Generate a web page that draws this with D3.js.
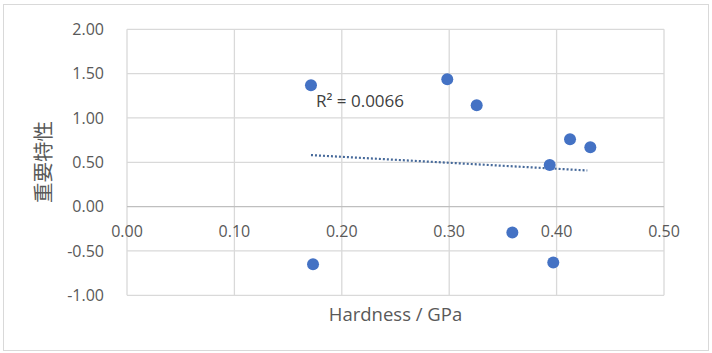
<!DOCTYPE html>
<html><head><meta charset="utf-8">
<script src="https://cdn.jsdelivr.net/npm/d3@7"></script>
<style>body{margin:0;background:#fff}svg{display:block}</style>
</head><body>
<script>
const hardness = [0.1713, 0.2982, 0.3256, 0.4125, 0.4314, 0.3936, 0.3588, 0.3969, 0.1732];
const importance = [1.369, 1.436, 1.143, 0.760, 0.670, 0.470, -0.293, -0.631, -0.650];
const xTicks = [0, 0.1, 0.2, 0.3, 0.4, 0.5];
const yTicks = [-1, -0.5, 0, 0.5, 1, 1.5, 2];
const xTitle = "Hardness / GPa";
const yTitle = "重要特性";
const r2Label = "R² = 0.0066";

const W = 712, H = 353;
const svg = d3.select("body").append("svg").attr("width", W).attr("height", H);
svg.append("rect").attr("x", 3.5).attr("y", 4.5).attr("width", 705).attr("height", 346)
  .attr("fill", "#fff").attr("stroke", "#d9d9d9").attr("stroke-width", 1);

const x = d3.scaleLinear().domain([0, 0.5]).range([127, 664]);
const y = d3.scaleLinear().domain([-1, 2]).range([295.3, 29.3]);
const font = "'Open Sans', 'Liberation Sans', sans-serif";
const fmt = d => d3.format(".2f")(d).replace("\u2212", "-");

// gridlines
const g = svg.append("g");
g.selectAll(".gx").data(xTicks).join("line")
  .attr("x1", d => x(d)).attr("x2", d => x(d)).attr("y1", y(2)).attr("y2", y(-1))
  .attr("stroke", "#d9d9d9").attr("stroke-width", 1.3);
g.selectAll(".gy").data(yTicks).join("line")
  .attr("x1", x(0)).attr("x2", x(0.5)).attr("y1", d => y(d)).attr("y2", d => y(d))
  .attr("stroke", d => d === 0 ? "#bfbfbf" : "#d9d9d9").attr("stroke-width", 1.3);

// y tick labels
svg.selectAll(".yl").data(yTicks).join("text")
  .attr("x", 104).attr("y", d => y(d)).attr("dy", "0.36em")
  .attr("text-anchor", "end").attr("font-family", font).attr("font-size", 16)
  .attr("fill", "#595959").text(fmt);

// x tick labels (axis crosses at y=0)
svg.selectAll(".xl").data(xTicks).join("text")
  .attr("x", d => x(d)).attr("y", y(0) + 25).attr("dy", "0.36em")
  .attr("text-anchor", "middle").attr("font-family", font).attr("font-size", 16)
  .attr("fill", "#595959").text(fmt);

// trendline via least squares
const mx = d3.mean(hardness), my = d3.mean(importance);
let sxy = 0, sxx = 0;
hardness.forEach((v, i) => { sxy += (v - mx) * (importance[i] - my); sxx += (v - mx) ** 2; });
const slope = sxy / sxx, icpt = my - slope * mx;
const [x0, x1] = d3.extent(hardness);
const xe = x.invert(x(x1) - 3);
svg.append("line")
  .attr("x1", x(x0)).attr("y1", y(icpt + slope * x0))
  .attr("x2", x(xe)).attr("y2", y(icpt + slope * xe))
  .attr("stroke", "#46699a").attr("stroke-width", 2.2).attr("stroke-dasharray", "2,2");

// points
svg.selectAll(".pt").data(hardness).join("circle")
  .attr("cx", d => x(d)).attr("cy", (d, i) => y(importance[i])).attr("r", 6)
  .attr("fill", "#4472c4");

// R² label
svg.append("text").attr("x", 316).attr("y", 107)
  .attr("font-family", font).attr("font-size", 17).attr("fill", "#404040").text(r2Label);

// axis titles
svg.append("text").attr("x", (x(0) + x(0.5)) / 2).attr("y", 321)
  .attr("text-anchor", "middle").attr("font-family", font).attr("font-size", 18.5)
  .attr("fill", "#595959").text(xTitle);
svg.append("text").attr("transform", "translate(51,162) rotate(-90)")
  .attr("text-anchor", "middle").attr("font-family", "'Noto Sans CJK SC', sans-serif").attr("font-size", 20.5)
  .attr("fill", "#595959").text(yTitle);
</script>
</body></html>
